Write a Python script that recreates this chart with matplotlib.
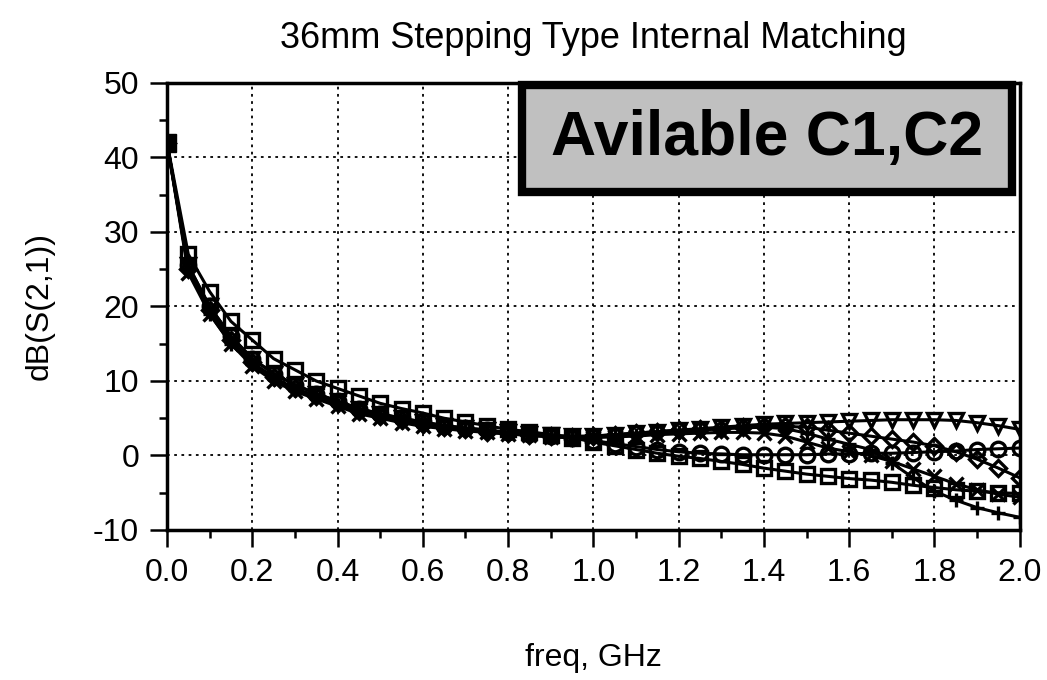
import numpy as np
import matplotlib as mpl
import matplotlib.pyplot as plt
from matplotlib.patches import Rectangle

plt.rcParams['font.family'] = ['Liberation Sans', 'DejaVu Sans']
plt.rcParams['axes.unicode_minus'] = False

freq = [0.00, 0.05, 0.10, 0.15, 0.20, 0.25, 0.30, 0.35, 0.40, 0.45, 0.50,
        0.55, 0.60, 0.65, 0.70, 0.75, 0.80, 0.85, 0.90, 0.95, 1.00,
        1.05, 1.10, 1.15, 1.20, 1.25, 1.30, 1.35, 1.40, 1.45, 1.50,
        1.55, 1.60, 1.65, 1.70, 1.75, 1.80, 1.85, 1.90, 1.95, 2.00]

s_square = [42, 27, 22, 18, 15.5, 13, 11.5, 10, 9, 8, 7,
            6.3, 5.7, 5, 4.5, 4, 3.5, 3.2, 2.8, 2.4, 1.8,
            1.3, 0.8, 0.3, -0.1, -0.4, -0.8, -1.2, -1.7, -2.1, -2.5,
            -2.8, -3.1, -3.3, -3.6, -4.0, -4.3, -4.6, -4.8, -5.0, -5.1]
s_tri = [42, 25.5, 20, 16, 13, 11, 9.5, 8.3, 7.3, 6.3, 5.6,
         5.0, 4.5, 4.0, 3.7, 3.4, 3.1, 2.9, 2.7, 2.6, 2.6,
         2.8, 3.0, 3.2, 3.4, 3.6, 3.8, 4.0, 4.2, 4.3, 4.4,
         4.5, 4.6, 4.7, 4.8, 4.8, 4.8, 4.7, 4.4, 4.0, 3.5]
s_circle = [42, 25.5, 20, 16, 13, 11, 9.5, 8.3, 7.3, 6.3, 5.6,
            5.0, 4.5, 4.0, 3.7, 3.4, 3.1, 2.9, 2.6, 2.3, 2.0,
            1.6, 1.2, 0.8, 0.5, 0.3, 0.2, 0.1, 0.1, 0.1, 0.1,
            0.2, 0.2, 0.3, 0.3, 0.4, 0.5, 0.6, 0.8, 0.9, 1.0]
s_diamond = [42, 25, 19.5, 15.5, 12.5, 10.5, 9, 8, 7, 6, 5.3,
             4.7, 4.2, 3.8, 3.5, 3.2, 3.0, 2.8, 2.6, 2.5, 2.6,
             2.8, 3.0, 3.2, 3.4, 3.5, 3.6, 3.8, 4.0, 3.9, 3.8,
             3.4, 3.0, 2.6, 2.2, 1.8, 1.3, 0.5, -0.5, -1.7, -3.0]
s_plus = [42, 25, 19, 15, 12.3, 10.3, 8.8, 7.8, 6.8, 5.8, 5.1,
          4.5, 4.0, 3.7, 3.4, 3.1, 2.9, 2.7, 2.5, 2.5, 2.5,
          2.6, 2.8, 3.0, 3.2, 3.4, 3.6, 3.7, 3.8, 3.6, 3.0,
          2.2, 1.5, 0.8, -1.0, -3.0, -4.8, -6.0, -7.0, -7.7, -8.3]
s_cross = [42, 24.5, 19, 15, 12, 10, 8.6, 7.6, 6.6, 5.6, 5.0,
           4.4, 3.9, 3.6, 3.3, 3.1, 2.9, 2.7, 2.5, 2.4, 2.4,
           2.5, 2.6, 2.8, 2.9, 3.0, 3.1, 3.1, 3.0, 2.6, 1.8,
           1.0, 0.5, 0.0, -0.8, -1.8, -2.8, -3.8, -4.6, -5.2, -5.6]

series = [(s_square, 's'), (s_tri, 'v'), (s_circle, 'o'),
          (s_diamond, 'D'), (s_plus, '+'), (s_cross, 'x')]

fig = plt.figure(figsize=(10.47, 6.8), dpi=100)
ax = fig.add_axes([0.1595, 0.2206, 0.8145, 0.6574])

for ys, m in series:
    ms = 8 if m == 'D' else 10.5
    ax.plot(freq, ys, color='k', lw=2.2, marker=m, ms=ms,
            mfc='none', mec='k', mew=2.4)
# filled first point
ax.plot(freq[0], s_square[0], 's', color='k', ms=13)

ax.set_xlim(0, 2.0)
ax.set_ylim(-10, 50)
ax.set_xticks(np.arange(0, 2.01, 0.2))
ax.set_xticks(np.arange(0.1, 2.0, 0.2), minor=True)
ax.set_yticks(np.arange(-10, 51, 10))
ax.set_yticks(np.arange(-5, 50, 10), minor=True)
ax.set_xticklabels(['%.1f' % v for v in np.arange(0, 2.01, 0.2)])
ax.tick_params(which='major', direction='out', length=12, width=1.8,
               labelsize=23, pad=8, color='k')
ax.tick_params(which='minor', direction='out', length=6, width=1.8)
ax.grid(True, which='major', ls=(0, (1.5, 2.5)), color='k', lw=1.3)
for sp in ax.spines.values():
    sp.set_linewidth(2.5)

ax.set_xlabel('freq, GHz', fontsize=23, labelpad=40)
ax.set_ylabel('dB(S(2,1))', fontsize=23, labelpad=28)
fig.text(0.567, 0.943, '36mm Stepping Type Internal Matching',
         fontsize=26, ha='center', va='center')

box = Rectangle((0.4986, 0.7176), 0.468, 0.1574, transform=fig.transFigure,
                facecolor='#c0c0c0', edgecolor='k', lw=6, zorder=5)
fig.patches.append(box)
fig.text(0.7326, 0.797, 'Avilable C1,C2', fontsize=45, fontweight='bold',
         ha='center', va='center', zorder=6)

fig.savefig('out.png', dpi=100)
